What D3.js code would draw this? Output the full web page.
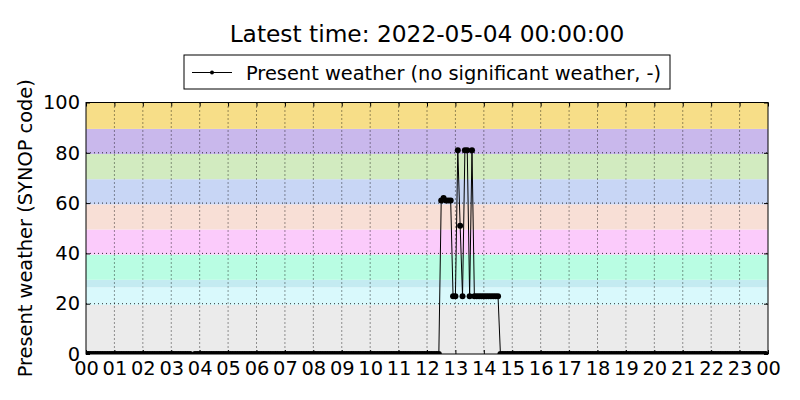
<!DOCTYPE html>
<html>
<head>
<meta charset="utf-8">
<script src="https://cdn.jsdelivr.net/npm/d3@7"></script>
<style>
  body { margin: 0; background: #fff; }
  svg { font-family: "DejaVu Sans", sans-serif; }
</style>
</head>
<body>
<svg id="chart" width="800" height="400"></svg>
<script>
// 5-minute samples, 00:00 .. 23:55
var stepMinutes = 5;
var hourLabels = ["00","01","02","03","04","05","06","07","08","09","10","11",
                  "12","13","14","15","16","17","18","19","20","21","22","23","00"];
var yTicks = [0, 20, 40, 60, 80, 100];

// present weather code, one row per hour (12 samples each)
var values = [].concat(
  [0,0,0,0,0,0,0,0,0,0,0,0],          // 00
  [0,0,0,0,0,0,0,0,0,0,0,0],          // 01
  [0,0,0,0,0,0,0,0,0,0,0,0],          // 02
  [0,0,0,0,0,0,0,0,0,null,0,0],       // 03
  [0,0,0,0,0,0,0,0,0,0,0,0],          // 04
  [0,0,0,0,0,0,0,0,0,0,0,0],          // 05
  [0,0,0,0,0,0,0,0,0,0,0,0],          // 06
  [0,0,0,0,0,0,0,0,0,0,0,0],          // 07
  [0,0,0,0,0,0,0,0,0,0,0,0],          // 08
  [0,0,0,0,0,0,0,0,0,0,0,0],          // 09
  [0,0,0,0,0,0,0,0,0,0,0,0],          // 10
  [0,0,0,0,0,0,0,0,0,0,0,0],          // 11
  [0,0,0,0,0,0,61,62,61,61,61,23],    // 12
  [23,81,51,23,81,81,23,81,23,23,23,23], // 13
  [23,23,23,23,23,23,23,0,0,0,0,0],   // 14
  [0,0,0,0,0,0,0,0,0,0,0,0],          // 15
  [0,0,0,0,0,0,0,0,0,0,0,0],          // 16
  [0,0,0,0,0,0,0,0,0,0,0,0],          // 17
  [0,0,0,0,0,0,0,0,0,0,0,0],          // 18
  [0,0,0,0,0,0,0,0,0,0,0,0],          // 19
  [0,0,0,0,0,0,0,0,0,0,0,0],          // 20
  [0,0,0,0,0,0,0,0,0,0,0,0],          // 21
  [0,0,0,0,0,0,0,0,0,0,0,0],          // 22
  [0,0,0,0,0,0,0,0,0,0,0,0]           // 23
);

// SYNOP code background bands
var bandLow    = [0, 19.5, 26.5, 29.5, 39.5, 49.5, 59.5, 69.5, 79.5, 89.5];
var bandHigh   = [19.5, 26.5, 29.5, 39.5, 49.5, 59.5, 69.5, 79.5, 89.5, 100];
var bandColors = ["#ebebeb","#d9f9fc","#c4ebf1","#b9fde3","#fbcbfb",
                  "#f8dfd6","#c8d6f5","#d2ebc0","#c9b8ec","#f7de88"];

var title = "Latest time: 2022-05-04 00:00:00";
var legendLabel = "Present weather (no significant weather, -)";
var yLabel = "Present weather (SYNOP code)";

var svg = d3.select("#chart");
var margin = {left: 86, right: 32, top: 102.5, bottom: 46};
var width = 800 - margin.left - margin.right,
    height = 400 - margin.top - margin.bottom;
var labelSize = 19.4;

var x = d3.scaleLinear().domain([0, 24 * 60]).range([0, width]);
var y = d3.scaleLinear().domain([0, 100]).range([height, 0]);

var data = values.map(function(v, i) { return {t: i * stepMinutes, v: v}; });

svg.append("defs").append("clipPath").attr("id", "clip")
  .append("rect").attr("width", width).attr("height", height);

var g = svg.append("g").attr("transform", "translate(" + margin.left + "," + margin.top + ")");

// bands
g.selectAll("rect.band")
  .data(bandLow)
  .enter().append("rect")
    .attr("class", "band")
    .attr("x", 0)
    .attr("width", width)
    .attr("y", function(d, i) { return y(bandHigh[i]); })
    .attr("height", function(d, i) { return y(d) - y(bandHigh[i]); })
    .attr("fill", function(d, i) { return bandColors[i]; });

// grid
var hourTicks = d3.range(0, 25).map(function(h) { return h * 60; });
g.append("g").selectAll("line")
  .data(hourTicks.slice(1, -1))
  .enter().append("line")
    .attr("x1", function(d) { return x(d); }).attr("x2", function(d) { return x(d); })
    .attr("y1", 0).attr("y2", height)
    .attr("stroke", "#000").attr("stroke-width", 0.8).attr("stroke-dasharray", "1,3");
g.append("g").selectAll("line")
  .data(yTicks.slice(1, -1))
  .enter().append("line")
    .attr("x1", 0).attr("x2", width)
    .attr("y1", function(d) { return y(d); }).attr("y2", function(d) { return y(d); })
    .attr("stroke", "#000").attr("stroke-width", 0.8).attr("stroke-dasharray", "1,3");

// series
var plot = g.append("g").attr("clip-path", "url(#clip)");
var line = d3.line()
  .defined(function(d) { return d.v !== null; })
  .x(function(d) { return x(d.t); })
  .y(function(d) { return y(d.v); });
plot.append("path").datum(data)
  .attr("d", line).attr("fill", "none").attr("stroke", "#000").attr("stroke-width", 1);
plot.selectAll("circle")
  .data(data.filter(function(d) { return d.v !== null; }))
  .enter().append("circle")
    .attr("cx", function(d) { return x(d.t); })
    .attr("cy", function(d) { return y(d.v); })
    .attr("r", 3)
    .attr("fill", "#000");

// axes (ticks inside, on all sides)
var xAxis = d3.axisBottom(x).tickValues(hourTicks)
  .tickFormat(function(d, i) { return hourLabels[i]; })
  .tickSizeInner(-4).tickSizeOuter(0).tickPadding(7);
g.append("g").attr("transform", "translate(0," + height + ")").call(xAxis);
g.append("g").call(d3.axisTop(x).tickValues(hourTicks).tickFormat("").tickSizeInner(-4).tickSizeOuter(0));
var yAxis = d3.axisLeft(y).tickValues(yTicks).tickSizeInner(-4).tickSizeOuter(0).tickPadding(6);
g.append("g").call(yAxis);
g.append("g").attr("transform", "translate(" + width + ",0)")
  .call(d3.axisRight(y).tickValues(yTicks).tickFormat("").tickSizeInner(-4).tickSizeOuter(0));

g.selectAll(".domain").remove();
g.selectAll(".tick line").attr("stroke", "#000");
g.selectAll(".tick text").attr("fill", "#000").attr("font-size", labelSize)
  .attr("font-family", "DejaVu Sans");

g.append("rect").attr("width", width).attr("height", height)
  .attr("fill", "none").attr("stroke", "#000").attr("stroke-width", 1);

// title
svg.append("text")
  .attr("x", margin.left + width / 2).attr("y", 42)
  .attr("text-anchor", "middle").attr("font-size", 23.3).attr("fill", "#000")
  .text(title);

// legend
var lg = svg.append("g").attr("transform", "translate(184,55)");
lg.append("rect").attr("width", 486).attr("height", 34)
  .attr("fill", "#fff").attr("stroke", "#000").attr("stroke-width", 1);
lg.append("line").attr("x1", 8).attr("x2", 48).attr("y1", 17.5).attr("y2", 17.5)
  .attr("stroke", "#000").attr("stroke-width", 1);
lg.append("circle").attr("cx", 28).attr("cy", 17.5).attr("r", 2).attr("fill", "#000");
lg.append("text").attr("x", 62).attr("y", 24.5)
  .attr("font-size", labelSize).attr("fill", "#000").text(legendLabel);

// y label
svg.append("text")
  .attr("transform", "translate(32," + (margin.top + height / 2) + ") rotate(-90)")
  .attr("text-anchor", "middle").attr("font-size", labelSize).attr("fill", "#000")
  .text(yLabel);
</script>
</body>
</html>
